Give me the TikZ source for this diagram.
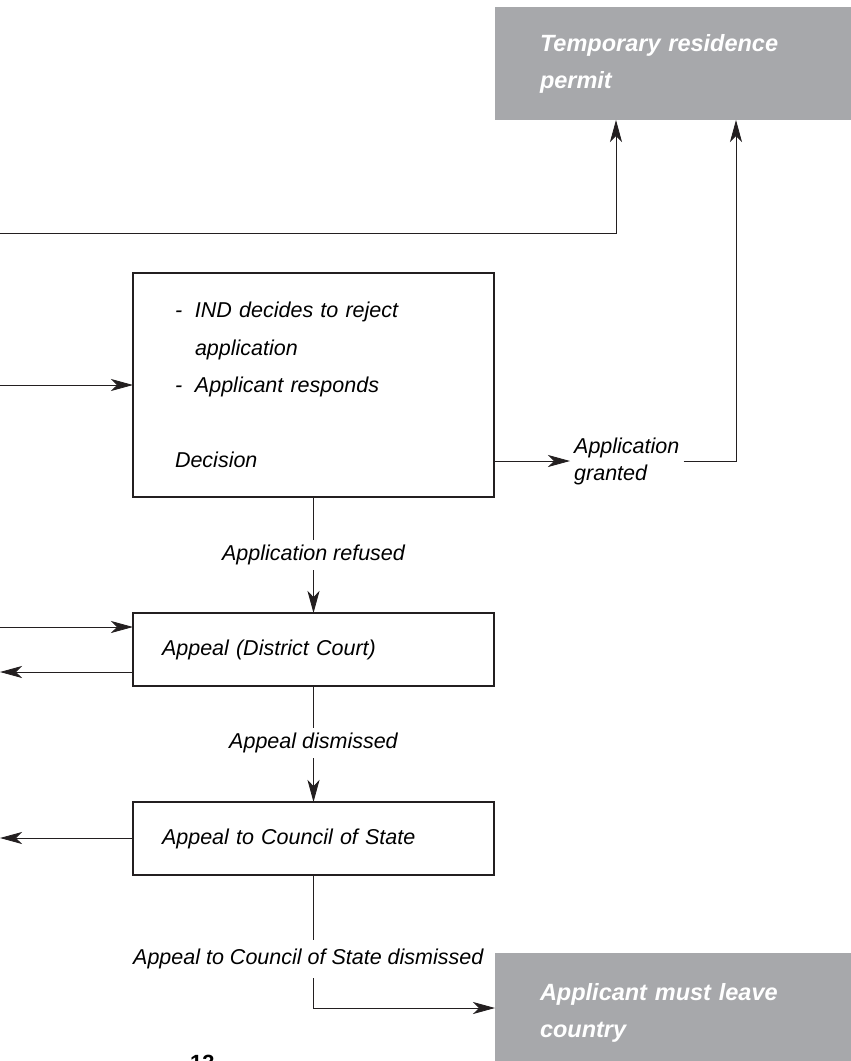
\documentclass[tikz,border=0pt]{standalone}
\usepackage{fontspec}
\setmainfont{Liberation Sans}
\usetikzlibrary{arrows.meta,positioning}
\definecolor{panelgrey}{HTML}{A7A8AB}
\definecolor{inkline}{HTML}{231F20}
\tikzset{
  procbox/.style={draw=inkline, line width=2.5pt, outer sep=0pt, align=left, anchor=north west,
    font=\itshape\fontsize{21.5}{37.5}\selectfont},
  endbox/.style={fill=panelgrey, text=white, align=left, anchor=north west, outer sep=0pt,
    inner xsep=45pt, text width=420pt, font=\bfseries\itshape\fontsize{23.5}{37}\selectfont},
  lbl/.style={font=\itshape\fontsize{21.5}{27}\selectfont, inner xsep=4pt, inner ysep=5pt, align=left},
  flow/.style={draw=inkline, line width=0.8pt},
  >={Stealth[length=22pt,width=12pt,inset=6pt]}
}
\newcommand{\bul}{\makebox[20pt][l]{-}}
\begin{document}
\begin{tikzpicture}[x=1pt,y=-1pt]
  \useasboundingbox[fill=white] (0,0) rectangle (851,1061);
  % outcome panels
  \node[endbox, minimum height=113pt] (permit) at (495,7) {Temporary residence\\permit};
  \node[endbox, minimum height=120pt] (leave) at (495,953) {Applicant must leave\\country};
  % procedure boxes
  \node[procbox, text width=277pt, inner xsep=42pt, minimum height=224pt] (decision) at (133,273)
    {\bul IND decides to reject\\ \hspace*{20pt}application\\ \bul Applicant responds\\[37.5pt] Decision};
  \node[procbox, text width=303pt, inner xsep=29pt, minimum height=73pt] (district) at (133,613)
    {Appeal (District Court)};
  \node[procbox, text width=303pt, inner xsep=29pt, minimum height=73pt] (council) at (133,802)
    {Appeal to Council of State};
  % labels
  \node[lbl, anchor=west] (granted) at (570,461) {Application\\granted};
  \node[lbl] (refused) at (313.5,555) {Application refused};
  \node[lbl] (dismissed) at (313.5,743) {Appeal dismissed};
  \node[lbl, anchor=west, inner ysep=9pt] (final) at (129,959) {Appeal to Council of State dismissed};
  \node[font=\bfseries\fontsize{22}{22}\selectfont, anchor=north west, inner sep=0pt] (pagenum) at (190,1055) {13};
  % loose ends on the left
  \coordinate (inA) at (0,233);
  \coordinate (inB) at (0,385);
  \coordinate (inC) at (0,627);
  \coordinate (outC) at (0,672);
  \coordinate (outD) at (0,838);
  % connectors
  \draw[flow,->] (inA) -| ([xshift=121pt]permit.south west);
  \draw[flow,->] (inB) -- (inB -| decision.west);
  \draw[flow,->] (decision.east |- granted.west) -- (granted.west);
  \draw[flow,->] (granted.east) -| ([xshift=241pt]permit.south west);
  \draw[flow] (decision.south) -- (decision.south |- refused.north);
  \draw[flow,->] (district.north |- refused.south) -- (district.north);
  \draw[flow,->] (inC) -- (inC -| district.west);
  \draw[flow,->] (outC -| district.west) -- (outC);
  \draw[flow] (district.south) -- (district.south |- dismissed.north);
  \draw[flow,->] (council.north |- dismissed.south) -- (council.north);
  \draw[flow,->] (outD -| council.west) -- (outD);
  \draw[flow] (council.south) -- (council.south |- final.north);
  \draw[flow,->] (council.south |- final.south) |- ([yshift=-55pt]leave.north west);
\end{tikzpicture}
\end{document}
